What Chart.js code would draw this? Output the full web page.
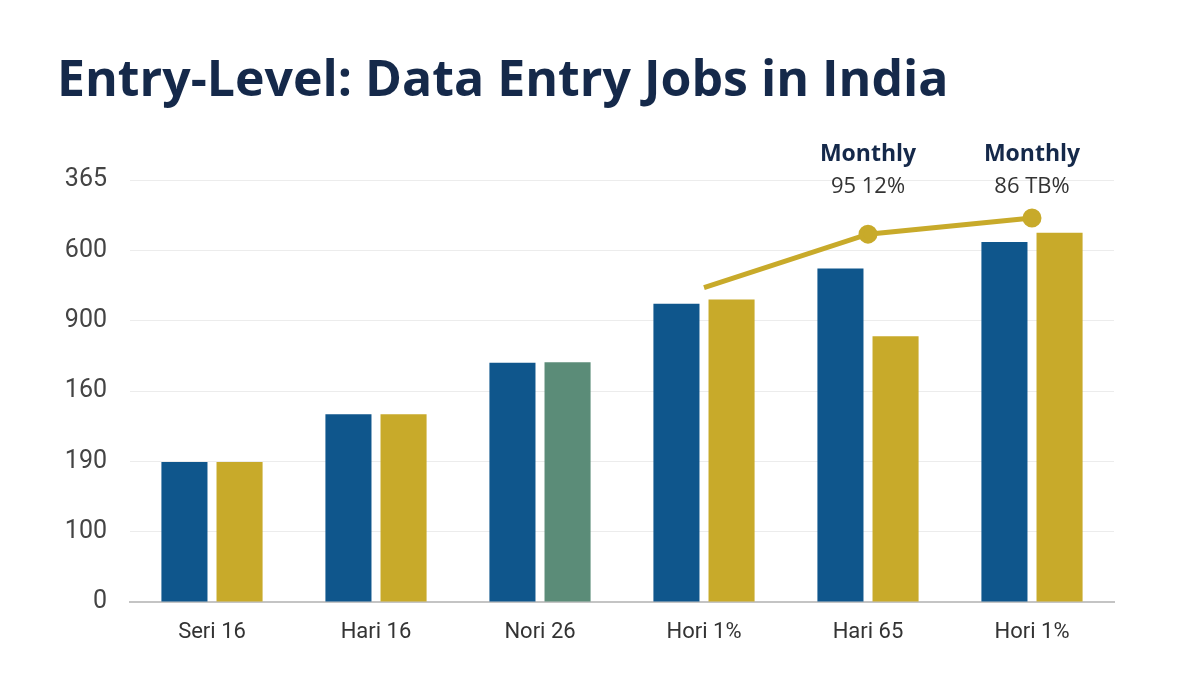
<!DOCTYPE html>
<html>
<head>
<meta charset="utf-8">
<script src="https://cdn.jsdelivr.net/npm/chart.js@4.4.1/dist/chart.umd.min.js"></script>
<style>
  html, body { margin: 0; padding: 0; background: #ffffff; }
  #wrap { width: 1181px; height: 675px; }
</style>
</head>
<body>
<div id="wrap"><canvas id="jobs"></canvas></div>
<script>
var categories = ['Seri 16', 'Hari 16', 'Nori 26', 'Hori 1%', 'Hari 65', 'Hori 1%'];
var yTickLabels = ['0', '100', '190', '160', '900', '600', '365'];
var blueSeries = [1.99, 2.67, 3.40, 4.24, 4.74, 5.12];
var goldSeries = [1.99, 2.67, 3.41, 4.30, 3.78, 5.25];
var trendSeries = [null, null, null, 4.47, 5.23, 5.46];
var noteTitles = [null, null, null, null, 'Monthly', 'Monthly'];
var noteValues = [null, null, null, null, '95 12%', '86 TB%'];

var navy = '#15294a';
var blue = '#0f568c';
var gold = '#c8aa2a';
var green = '#5b8c78';

var goldColors = goldSeries.map(function (v, i) { return i === 2 ? green : gold; });

// text above the trend points
var notesPlugin = {
    id: 'notes',
    afterDatasetsDraw: function (chart) {
        var ctx = chart.ctx;
        var meta = chart.getDatasetMeta(2);
        var top = chart.chartArea.top;
        ctx.save();
        ctx.textAlign = 'center';
        ctx.textBaseline = 'middle';
        meta.data.forEach(function (pt, i) {
            if (!noteTitles[i]) return;
            ctx.fillStyle = navy;
            ctx.font = 'bold 23px "Open Sans", sans-serif';
            ctx.fillText(noteTitles[i], pt.x, top - 26);
            ctx.fillStyle = '#333333';
            ctx.font = '22px "Open Sans", sans-serif';
            ctx.fillText(noteValues[i], pt.x, top + 7);
        });
        ctx.restore();
    }
};

var ctx = document.getElementById('jobs');
var jobsChart = new Chart(ctx, {
    data: {
        labels: categories,
        datasets: [
            {
                type: 'bar',
                label: 'Series A',
                backgroundColor: blue,
                data: blueSeries,
                order: 2
            },
            {
                type: 'bar',
                label: 'Series B',
                backgroundColor: goldColors,
                data: goldSeries,
                order: 2
            },
            {
                type: 'line',
                label: 'Monthly',
                borderColor: gold,
                backgroundColor: gold,
                borderWidth: 5,
                pointRadius: [0, 0, 0, 0, 7, 7],
                pointHoverRadius: [0, 0, 0, 0, 7, 7],
                data: trendSeries,
                order: 1
            }
        ]
    },
    plugins: [notesPlugin],
    options: {
        responsive: true,
        maintainAspectRatio: false,
        animation: false,
        layout: {
            padding: { left: 57, right: 67, top: 0, bottom: 0 }
        },
        datasets: {
            bar: { categoryPercentage: 0.672, barPercentage: 0.836 }
        },
        plugins: {
            legend: { display: false },
            tooltip: { enabled: false },
            title: {
                display: true,
                text: 'Entry-Level: Data Entry Jobs in India',
                align: 'start',
                color: navy,
                font: { family: 'Open Sans', size: 50, weight: 'bold' },
                padding: { top: 52, bottom: 68 }
            }
        },
        scales: {
            x: {
                grid: { display: false, drawTicks: false },
                border: { display: true, color: '#c4c4c4', width: 2 },
                ticks: {
                    color: '#333333',
                    padding: 17,
                    font: { family: 'Roboto', size: 22 }
                },
                afterFit: function (scale) { scale.height = 73; }
            },
            y: {
                min: 0,
                max: 6,
                grid: { color: '#ececec', lineWidth: 1, drawTicks: false },
                border: { display: false },
                ticks: {
                    stepSize: 1,
                    color: '#444444',
                    padding: 23,
                    font: { family: 'Roboto', size: 25 },
                    callback: function (value) { return yTickLabels[value]; }
                },
                afterFit: function (scale) { scale.width = 73; }
            }
        }
    }
});
</script>
</body>
</html>
